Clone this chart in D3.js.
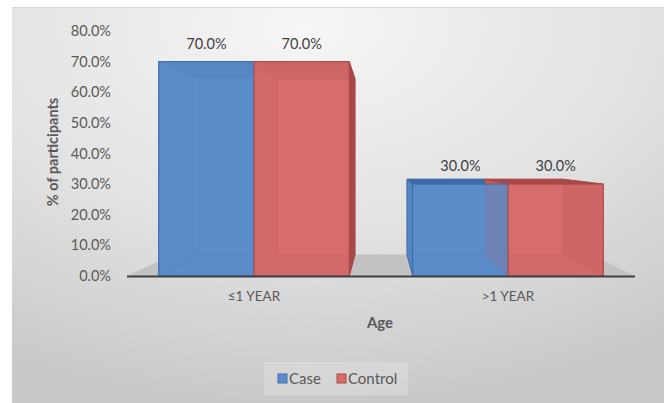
<!DOCTYPE html>
<html>
<head>
<meta charset="utf-8">
<script src="https://cdn.jsdelivr.net/npm/d3@7"></script>
<style>
  html, body { margin: 0; padding: 0; background: #fff; }
  svg { display: block; font-family: Lato, "Open Sans", sans-serif; }
</style>
</head>
<body>
<div id="app"></div>
<script>
const categories = ["≤1 YEAR", ">1 YEAR"];
const seriesNames = ["Case", "Control"];
const caseValues = [70, 30];
const controlValues = [70, 30];
const yTicks = [0, 10, 20, 30, 40, 50, 60, 70, 80];

const w = 664;
const h = 403;

const colors = {
  Case: { main: "#5b8dcb", dark: "#3f6ca8", side: "#5586c3" },
  Control: { main: "#d66c6c", dark: "#a94848", side: "#c45a5a" }
};

const rows = [];
categories.forEach((c, i) => {
  rows.push({ cat: c, series: "Case", value: caseValues[i] });
  rows.push({ cat: c, series: "Control", value: controlValues[i] });
});

const svg = d3.select("#app").append("svg").attr("width", w).attr("height", h);

// background gradient
const defs = svg.append("defs");
const grad = defs.append("radialGradient").attr("id", "bg")
  .attr("cx", "45%").attr("cy", "5%").attr("r", "95%");
grad.append("stop").attr("offset", "0%").attr("stop-color", "#f6f6f6");
grad.append("stop").attr("offset", "55%").attr("stop-color", "#e2e2e2");
grad.append("stop").attr("offset", "100%").attr("stop-color", "#c9c9c9");

svg.append("rect").attr("x", 12).attr("y", 7).attr("width", w - 12).attr("height", h - 7)
  .attr("fill", "url(#bg)");
svg.append("line").attr("x1", 12).attr("x2", w).attr("y1", 7.5).attr("y2", 7.5)
  .attr("stroke", "#d8d8d8");

// scales
const x0 = d3.scaleBand().domain(categories).range([127, 635]);
const bw = x0.bandwidth();
const x1 = d3.scaleBand().domain(seriesNames).range([bw * 0.125, bw * 0.875]);
const y = d3.scaleLinear().domain([0, 80]).range([276, 31]);

// perspective
const vp = [381, 157];
const k = 0.82;
const proj = ([px, py]) => [vp[0] + k * (px - vp[0]), vp[1] + k * (py - vp[1])];
const pts = (arr) => arr.map((p) => p.join(",")).join(" ");

// floor
const fl = [x0.range()[0], y(0)];
const fr = [x0.range()[1], y(0)];
svg.append("polygon")
  .attr("points", pts([fl, fr, proj(fr), proj(fl)]))
  .attr("fill", "#c2c2c2");

// y axis labels
svg.append("g").selectAll("text").data(yTicks).enter().append("text")
  .attr("x", 111)
  .attr("y", (d) => y(d))
  .attr("dy", "0.35em")
  .attr("text-anchor", "end")
  .attr("font-size", 14.5)
  .attr("fill", "#595959")
  .text((d) => d.toFixed(1) + "%");

// boxes
const boxes = rows.map((d) => {
  const xa = x0(d.cat) + x1(d.series);
  const xb = xa + x1.bandwidth();
  const yt = y(d.value);
  const yb = y(0);
  const F = { tl: [xa, yt], tr: [xb, yt], br: [xb, yb], bl: [xa, yb] };
  const B = { tl: proj(F.tl), tr: proj(F.tr), br: proj(F.br), bl: proj(F.bl) };
  return { d, F, B };
});

const backLayer = svg.append("g");
boxes.forEach(({ d, F, B }) => {
  const c = colors[d.series];
  const faces = [
    { p: [B.tl, B.tr, B.br, B.bl], fill: c.main },
    { p: [F.bl, F.br, B.br, B.bl], fill: c.side },
    { p: [F.tl, B.tl, B.bl, F.bl], fill: c.side },
    { p: [F.tr, B.tr, B.br, F.br], fill: c.dark },
    { p: [F.tl, F.tr, B.tr, B.tl], fill: c.dark }
  ];
  backLayer.selectAll(null).data(faces).enter().append("polygon")
    .attr("points", (f) => pts(f.p))
    .attr("fill", (f) => f.fill)
    .attr("stroke", c.dark)
    .attr("stroke-width", 0.8)
    .attr("stroke-linejoin", "round");
});

svg.append("g").selectAll("rect").data(boxes).enter().append("rect")
  .attr("x", (b) => b.F.tl[0])
  .attr("y", (b) => b.F.tl[1])
  .attr("width", (b) => b.F.tr[0] - b.F.tl[0])
  .attr("height", (b) => b.F.bl[1] - b.F.tl[1])
  .attr("fill", (b) => colors[b.d.series].main)
  .attr("fill-opacity", 0.82)
  .attr("stroke", (b) => colors[b.d.series].dark)
  .attr("stroke-width", 1);

// floor front edge
svg.append("line")
  .attr("x1", x0.range()[0]).attr("x2", x0.range()[1])
  .attr("y1", y(0) + 0.5).attr("y2", y(0) + 0.5)
  .attr("stroke", "#404040").attr("stroke-width", 2);

// data labels
svg.append("g").selectAll("text").data(boxes).enter().append("text")
  .attr("x", (b) => (b.F.tl[0] + b.F.tr[0]) / 2)
  .attr("y", (b) => b.F.tl[1] - 13)
  .attr("text-anchor", "middle")
  .attr("font-size", 14.5)
  .attr("fill", "#404040")
  .text((b) => b.d.value.toFixed(1) + "%");

// category labels
svg.append("g").selectAll("text").data(categories).enter().append("text")
  .attr("x", (d) => x0(d) + bw / 2)
  .attr("y", 301)
  .attr("text-anchor", "middle")
  .attr("font-size", 13.5)
  .attr("fill", "#595959")
  .text((d) => d);

// axis titles
svg.append("text")
  .attr("x", 380).attr("y", 328)
  .attr("text-anchor", "middle")
  .attr("font-size", 15)
  .attr("font-weight", "bold")
  .attr("fill", "#595959")
  .text("Age");

svg.append("text")
  .attr("transform", "translate(58,152) rotate(-90)")
  .attr("text-anchor", "middle")
  .attr("font-size", 14.5)
  .attr("font-weight", "bold")
  .attr("fill", "#595959")
  .text("% of participants");

// legend
const legend = svg.append("g");
legend.append("rect")
  .attr("x", 264).attr("y", 362).attr("width", 144).attr("height", 33)
  .attr("fill", "#ffffff").attr("fill-opacity", 0.2);
const legX = [278, 337];
seriesNames.forEach((s, i) => {
  legend.append("rect")
    .attr("x", legX[i]).attr("y", 374).attr("width", 9).attr("height", 9)
    .attr("fill", colors[s].main).attr("stroke", colors[s].dark);
  legend.append("text")
    .attr("x", legX[i] + 11).attr("y", 384)
    .attr("font-size", 15)
    .attr("fill", "#595959")
    .text(s);
});
</script>
</body>
</html>
